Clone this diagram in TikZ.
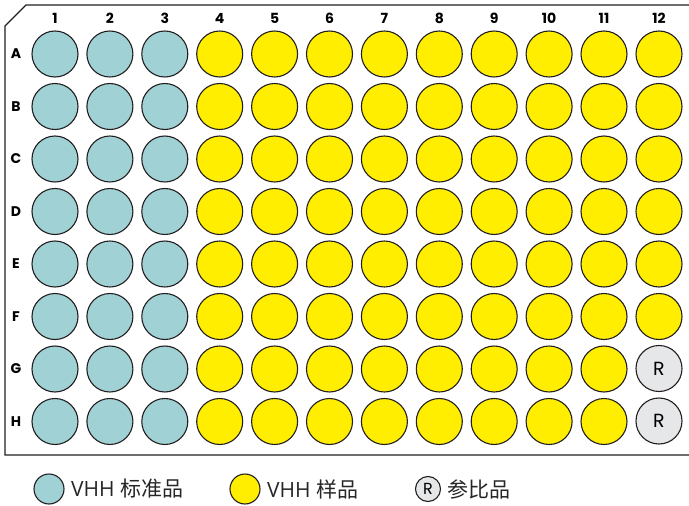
\documentclass[tikz,border=0pt]{standalone}
\usepackage{fontspec}
\setmainfont{Open Sans}
\newfontfamily\cjk{Noto Sans CJK SC}
\newfontfamily\lblfont{Poppins}
\usetikzlibrary{positioning}
\definecolor{stdcol}{HTML}{A0D2D5}
\definecolor{smpcol}{HTML}{FFEE00}
\definecolor{refcol}{HTML}{E6E7E8}
\definecolor{edgecol}{HTML}{231F20}

\begin{document}
\begin{tikzpicture}[
  x=1pt, y=-1pt,
  well/.style={circle, draw=edgecol, line width=1.1pt, minimum size=46pt, inner sep=0pt, font=\lblfont\fontsize{19}{19}\selectfont},
  std/.style={well, fill=stdcol},
  smp/.style={well, fill=smpcol},
  refw/.style={well, fill=refcol},
  lbl/.style={font=\lblfont\bfseries\fontsize{14}{14}\selectfont, text=black},
  key/.style={circle, draw=edgecol, line width=1.1pt, minimum size=30pt, inner sep=0pt},
  keytxt/.style={font=\fontsize{21}{21}\selectfont, text=black!85}
]
\useasboundingbox (0,0) rectangle (689,506);
\clip (0,0) rectangle (689,506);

% plate outline
\draw[line width=1.3pt, edgecol] (700,5) -- (26,5) -- (5,26) -- (5,455) -- (700,455);

% column numbers
\foreach \c in {1,...,12}
  \node[lbl] (col\c) at ({55+54.9*(\c-1)},18) {\c};

% rows
\foreach \r [count=\i from 0] in {A,B,C,D,E,F,G,H} {
  \node[lbl] (row\r) at (16,{54+52.5*\i}) {\r};
  % standards
  \foreach \c in {1,2,3}
    \node[std] (\r\c) at ({55+54.9*(\c-1)},{54+52.5*\i}) {};
  % samples
  \foreach \c in {4,...,11}
    \node[smp] (\r\c) at ({55+54.9*(\c-1)},{54+52.5*\i}) {};
}
\foreach \r [count=\i from 0] in {A,B,C,D,E,F}
  \node[smp] (\r12) at (659,{54+52.5*\i}) {};
\node[refw] (G12) at (659,368.5) {R};
\node[refw] (H12) at (659,421) {R};

% legend
\node[key, fill=stdcol] (kstd) at (49,489) {};
\node[keytxt, right=3pt of kstd] (tstd) {VHH {\cjk 标准品}};
\node[key, fill=smpcol] (ksmp) at (245,489) {};
\node[keytxt, right=3pt of ksmp] (tsmp) {VHH {\cjk 样品}};
\node[key, fill=refcol, minimum size=25pt, font=\lblfont\fontsize{16}{16}\selectfont] (kref) at (428,489) {R};
\node[keytxt, right=3pt of kref] (tref) {\cjk 参比品};
\end{tikzpicture}
\end{document}
